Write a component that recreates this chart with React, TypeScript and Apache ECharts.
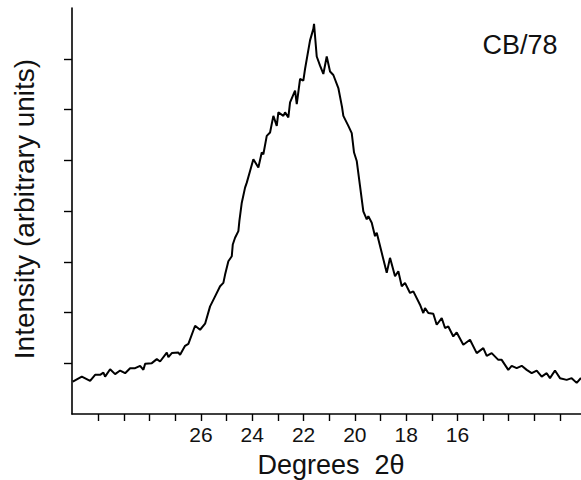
import React, { useEffect, useRef } from "react";
import * as echarts from "echarts";

const twoTheta: number[] = [
  31.0, 30.647, 30.324, 30.129, 29.934, 29.805, 29.739, 29.544, 29.349, 29.154,
  28.959, 28.764, 28.569, 28.374, 28.246, 28.179, 27.918, 27.723, 27.595, 27.333,
  27.271, 27.138, 26.881, 26.815, 26.62, 26.491, 26.23, 26.035, 25.84, 25.645,
  25.45, 25.255, 25.127, 25.06, 24.932, 24.799, 24.76, 24.671, 24.542, 24.503,
  24.409, 24.281, 24.214, 24.086, 23.957, 23.762, 23.63, 23.567, 23.435, 23.306,
  23.177, 23.045, 22.982, 22.787, 22.721, 22.593, 22.526, 22.331, 22.265, 22.136,
  22.008, 21.942, 21.747, 21.618, 21.591, 21.486, 21.357, 21.228, 21.096, 20.967,
  20.838, 20.643, 20.499, 20.448, 20.253, 20.121, 20.031, 19.926, 19.797, 19.669,
  19.536, 19.474, 19.341, 19.213, 19.146, 18.951, 18.756, 18.628, 18.433, 18.304,
  18.171, 18.043, 17.848, 17.719, 17.458, 17.329, 17.263, 17.135, 16.94, 16.807,
  16.612, 16.483, 16.355, 16.16, 16.027, 15.77, 15.509, 15.247, 14.99, 14.857,
  14.663, 14.405, 14.273, 14.016, 13.883, 13.688, 13.493, 13.298, 13.103, 12.908,
  12.713, 12.518, 12.39, 12.195, 12.0, 11.739, 11.544, 11.349, 11.181,
];

const intensity: number[] = [
  0.638, 0.737, 0.652, 0.771, 0.771, 0.816, 0.737, 0.883, 0.785, 0.856,
  0.804, 0.903, 0.903, 0.949, 0.87, 0.988, 1.002, 1.081, 1.034, 1.211,
  1.121, 1.2, 1.211, 1.166, 1.344, 1.383, 1.739, 1.66, 1.779, 2.121,
  2.318, 2.516, 2.583, 2.747, 3.01, 3.109, 3.34, 3.472, 3.603, 3.8,
  4.164, 4.46, 4.559, 4.789, 5.02, 4.856, 5.152, 5.119, 5.48, 5.547,
  5.875, 5.678, 5.943, 5.875, 5.943, 5.844, 6.14, 6.37, 6.107, 6.601,
  6.567, 6.798, 7.362, 7.589, 7.688, 7.045, 6.864, 6.7, 7.045, 6.749,
  6.68, 6.423, 6.047, 5.875, 5.678, 5.534, 5.152, 4.986, 4.492, 3.992,
  3.834, 3.899, 3.769, 3.504, 3.571, 3.176, 2.781, 3.077, 2.713, 2.812,
  2.516, 2.583, 2.385, 2.417, 2.154, 1.99, 2.089, 1.99, 1.976, 1.759,
  1.891, 1.694, 1.725, 1.528, 1.607, 1.364, 1.462, 1.2, 1.298, 1.146,
  1.2, 1.067, 1.067, 0.87, 0.949, 0.903, 0.949, 0.87, 0.804, 0.856,
  0.737, 0.804, 0.706, 0.856, 0.706, 0.672, 0.706, 0.613, 0.711,
];

const xTickValues: number[] = [12, 13, 14, 15, 16, 17, 18, 19, 20, 21, 22, 23, 24, 25, 26, 27, 28, 29, 30];
const xLabelValues: number[] = [16, 18, 20, 22, 24, 26];
const yTickValues: number[] = [1, 2, 3, 4, 5, 6, 7];

const yTitle = "Intensity (arbitrary units)";
const xTitle = "Degrees  2θ";
const sampleLabel = "CB/78";

export default function App() {
  const ref = useRef<HTMLDivElement>(null);
  useEffect(() => {
    if (!ref.current) return;
    const chart = echarts.init(ref.current, null, { renderer: "svg" });
    const font = "'Liberation Sans', Arial, Helvetica, sans-serif";
    chart.setOption({
      animation: false,
      backgroundColor: "#ffffff",
      grid: { left: 72, right: 0, top: 8, bottom: 66 },
      xAxis: {
        type: "value",
        inverse: true,
        min: 11.18,
        max: 31.03,
        axisLine: { show: true, lineStyle: { color: "#000", width: 1.6 } },
        axisTick: {
          show: true,
          customValues: xTickValues,
          length: 7,
          lineStyle: { color: "#000", width: 1.4 },
        },
        axisLabel: {
          show: true,
          customValues: xLabelValues,
          fontSize: 21,
          color: "#111",
          fontFamily: font,
          margin: 10,
        },
        splitLine: { show: false },
      },
      yAxis: {
        type: "value",
        min: 0,
        max: 8,
        axisLine: { show: true, lineStyle: { color: "#000", width: 1.6 } },
        axisTick: {
          show: true,
          customValues: yTickValues,
          length: 8,
          lineStyle: { color: "#000", width: 1.4 },
        },
        axisLabel: { show: false },
        splitLine: { show: false },
      },
      series: [
        {
          type: "line",
          data: twoTheta.map((t, i) => [t, intensity[i]]),
          showSymbol: false,
          symbol: "none",
          lineStyle: { color: "#000", width: 2 },
          clip: true,
        },
      ],
      graphic: [
        {
          type: "text",
          x: 24,
          y: 209,
          rotation: Math.PI / 2,
          style: {
            text: yTitle,
            fontSize: 28,
            fontFamily: font,
            fill: "#111",
            align: "center",
            verticalAlign: "middle",
          },
        },
        {
          type: "text",
          x: 331,
          y: 465,
          style: {
            text: xTitle,
            fontSize: 27,
            fontFamily: font,
            fill: "#111",
            align: "center",
            verticalAlign: "middle",
          },
        },
        {
          type: "text",
          x: 520,
          y: 45,
          style: {
            text: sampleLabel,
            fontSize: 27,
            fontFamily: font,
            fill: "#111",
            align: "center",
            verticalAlign: "middle",
          },
        },
      ],
    });
    return () => chart.dispose();
  }, []);
  return (
    <div
      ref={ref}
      style={{ position: "fixed", left: 0, top: 0, width: 581, height: 480 }}
    />
  );
}
